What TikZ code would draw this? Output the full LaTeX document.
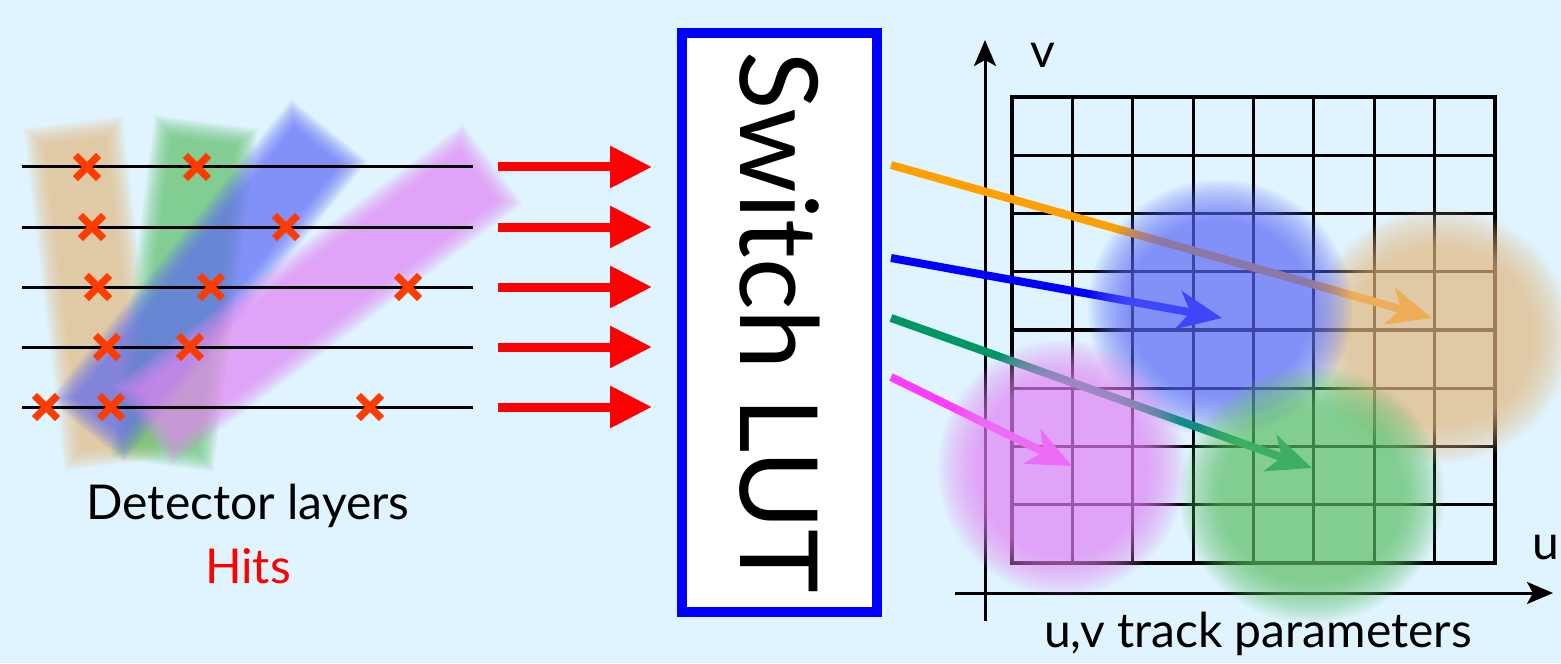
\documentclass[tikz,border=0pt]{standalone}
\usepackage{fontspec}
\setmainfont{Lato}
\usepackage{xcolor}
\usepackage{tikz}
\usetikzlibrary{arrows.meta,positioning,shapes.misc}

\definecolor{bgblue}{RGB}{223,244,255}
\definecolor{hitred}{RGB}{255,60,0}
\definecolor{blobblue}{RGB}{96,108,248}
\definecolor{bloborange}{RGB}{238,188,132}
\definecolor{blobgreen}{RGB}{96,195,103}
\definecolor{blobpink}{RGB}{236,134,247}
\definecolor{trkorange}{RGB}{255,160,0}
\definecolor{trkgreen}{RGB}{0,150,100}
\definecolor{trkpink}{RGB}{255,60,255}

\newcommand{\fuzzyblob}[4]{%
  \foreach \k in {0,...,15}{%
    \fill[#1, opacity=0.07] (#2) ellipse [x radius={#3+20-2.67*\k}, y radius={#4+20-2.67*\k}];%
  }}
\newcommand{\fuzzyband}[4]{%
  \foreach \k in {0,...,15}{%
    \draw[#1, opacity=0.07, line width={(#4+20-2.67*\k)*0.5pt},
      shorten <={(1.33*\k-10)*0.5pt}, shorten >={(1.33*\k-10)*0.5pt}] (#2) -- (#3);%
  }}

\begin{document}
\begin{tikzpicture}[x=0.5pt, y=-0.5pt,
  layerline/.style={line width=1.5pt},
  hit/.style={cross out, draw=hitred, line width=3.6pt, minimum size=8pt, inner sep=0pt},
  bigarrow/.style={red, line width=4.5pt, -{Triangle[length=21pt,width=20pt]}},
  trackarrow/.style={line width=4pt, -{Stealth[length=22pt,width=19pt,inset=6pt]}},
  axisline/.style={line width=1.5pt, -{Stealth[length=13pt,width=11pt,inset=3pt]}},
  gridline/.style={line width=1.6pt},
  lutbox/.style={draw=blue, fill=white, line width=5pt, rotate=-90, minimum width=289.5pt,
    minimum height=97.5pt, inner sep=0pt, font=\fontsize{54}{60}\selectfont},
  txt/.style={font=\fontsize{24}{28}\selectfont, inner sep=0pt}
]
\useasboundingbox (0,0) rectangle (1561,663);
\fill[bgblue] (0,0) rectangle (1561,663);

\coordinate (ob1) at (74,132);  \coordinate (ob2) at (113,455);
\coordinate (gb1) at (205,132); \coordinate (gb2) at (163,455);
\coordinate (bb1) at (323,138); \coordinate (bb2) at (93,423);
\coordinate (pb1) at (485,170); \coordinate (pb2) at (150,420);
\fuzzyband{bloborange}{ob1}{ob2}{80}
\fuzzyband{blobgreen}{gb1}{gb2}{84}
\fuzzyband{blobblue}{bb1}{bb2}{78}
\fuzzyband{blobpink}{pb1}{pb2}{80}

\foreach \y [count=\i] in {167,227,287,347,407}{
  \coordinate (lw\i) at (22,\y);
  \coordinate (le\i) at (473,\y);
  \draw[layerline] (lw\i) -- (le\i);
  \coordinate (rs\i) at (498,\y);
  \coordinate (rt\i) at (652,\y);
  \draw[bigarrow] (rs\i) -- (rt\i);
}
\foreach \x/\y [count=\n] in {87/167,197/167,92/227,286/227,98/287,211/287,408/287,
    107/347,190/347,46/407,111/407,370/407}
  \node[hit] (hit\n) at (\x,\y) {};

\node[txt] (detector) at (248,506) {Detector layers};
\node[txt, text=red] (hits) at (248,566) {Hits};

\node[lutbox] (lut) at (779.5,322.5) {Switch LUT};

\draw[gridline] (1012,97) rectangle (1495,563);
\foreach \i in {1,...,7}
  \draw[gridline] ({1012+60.375*\i},97) -- ({1012+60.375*\i},563);
\foreach \j in {1,...,7}
  \draw[gridline] (1012,{97+58.25*\j}) -- (1495,{97+58.25*\j});

\coordinate (vbot) at (985,621); \coordinate (vtop) at (985,40);
\coordinate (ulft) at (955,593); \coordinate (urgt) at (1553,593);
\draw[axisline] (vbot) -- (vtop);
\draw[axisline] (ulft) -- (urgt);
\node[txt] (vlabel) at (1043,55) {v};
\node[txt] (ulabel) at (1546,548) {u};
\node[txt] (params) at (1258,634) {u,v track parameters};

\coordinate (os) at (891,165); \coordinate (ot) at (1432,318);
\coordinate (bs) at (891,258); \coordinate (bt) at (1222,318);
\coordinate (gs) at (891,318); \coordinate (gt) at (1312,468);
\coordinate (ps) at (891,377); \coordinate (pt) at (1072,466);
\draw[trackarrow, trkorange] (os) -- (ot);
\draw[trackarrow, blue] (bs) -- (bt);
\draw[trackarrow, trkgreen] (gs) -- (gt);
\draw[trackarrow, trkpink] (ps) -- (pt);

\coordinate (orangeblob) at (1440,336);
\coordinate (blueblob) at (1220,308);
\coordinate (pinkblob) at (1062,468);
\coordinate (greenblob) at (1312,495);
\fuzzyblob{bloborange}{orangeblob}{112}{108}
\fuzzyblob{blobblue}{blueblob}{112}{108}
\fuzzyblob{blobpink}{pinkblob}{104}{108}
\fuzzyblob{blobgreen}{greenblob}{112}{108}
\end{tikzpicture}
\end{document}
